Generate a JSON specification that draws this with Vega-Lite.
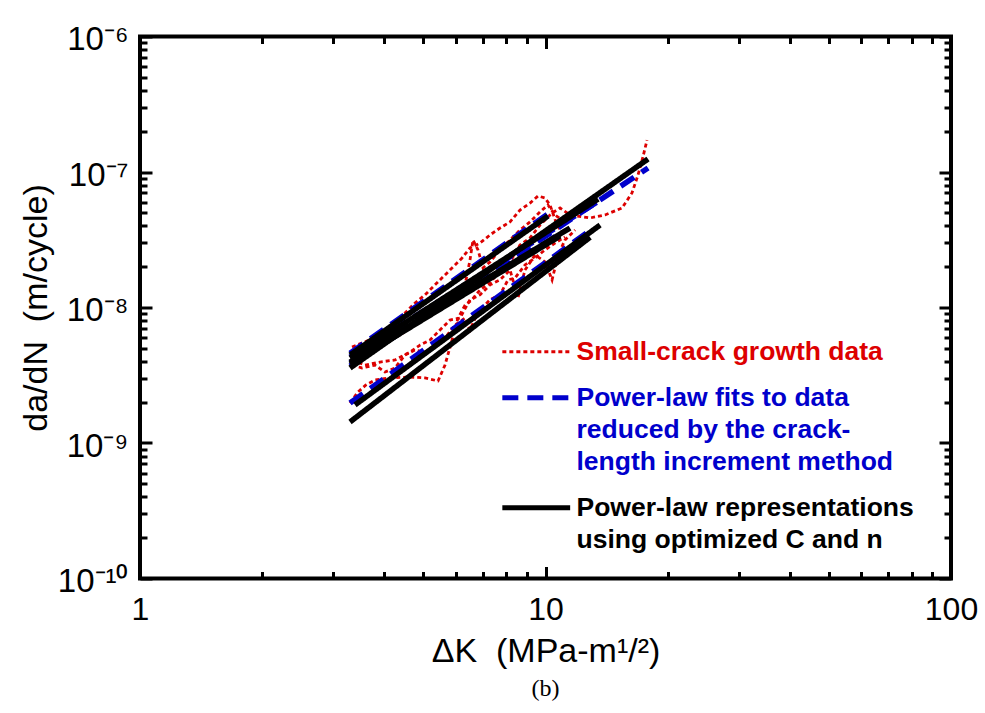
{
  "$schema": "https://vega.github.io/schema/vega-lite/v6.json",
  "width": 811,
  "height": 542,
  "autosize": {"type": "none"},
  "padding": {"left": 140, "top": 36.5, "right": 34, "bottom": 134.5},
  "background": "white",
  "title": {"text": "(b)", "orient": "bottom", "font": "Liberation Serif", "fontSize": 24, "fontWeight": "normal", "color": "black", "offset": 8},
  "config": {"view": {"stroke": "black", "strokeWidth": 4}},
  "data": {"values": [
    {"k":"data","s":"R1","x":3.296,"y":1.97e-9},{"k":"data","s":"R1","x":3.449,"y":2.38e-9},{"k":"data","s":"R1","x":3.607,"y":2.68e-9},{"k":"data","s":"R1","x":3.797,"y":2.92e-9},{"k":"data","s":"R1","x":4.136,"y":3.02e-9},{"k":"data","s":"R1","x":4.633,"y":3.07e-9},{"k":"data","s":"R1","x":5.045,"y":3.02e-9},{"k":"data","s":"R1","x":5.432,"y":2.87e-9},{"k":"data","s":"R1","x":5.652,"y":3.76e-9},{"k":"data","s":"R1","x":5.881,"y":5.75e-9},{"k":"data","s":"R1","x":6.085,"y":8.37e-9},{"k":"data","s":"R1","x":6.332,"y":1.04e-8},{"k":"data","s":"R1","x":6.588,"y":1.14e-8},{"k":"data","s":"R1","x":6.895,"y":1.35e-8},{"k":"data","s":"R1","x":7.298,"y":1.52e-8},{"k":"data","s":"R1","x":7.723,"y":1.89e-8},{"k":"data","s":"R1","x":8.176,"y":2.17e-8},{"k":"data","s":"R1","x":8.651,"y":2.89e-8},{"k":"data","s":"R1","x":9.159,"y":3.26e-8},{"k":"data","s":"R1","x":9.692,"y":4.06e-8},{"k":"data","s":"R1","x":10.38,"y":4.98e-8},{"k":"data","s":"R1","x":10.86,"y":5.42e-8},{"k":"data","s":"R1","x":11.49,"y":4.82e-8},{"k":"data","s":"R1","x":12.88,"y":4.58e-8},{"k":"data","s":"R1","x":14.02,"y":4.82e-8},{"k":"data","s":"R1","x":15.44,"y":5.42e-8},{"k":"data","s":"R1","x":16.34,"y":7.0e-8},{"k":"data","s":"R1","x":16.91,"y":9.5e-8},{"k":"data","s":"R1","x":17.39,"y":1.29e-7},{"k":"data","s":"R1","x":17.80,"y":1.72e-7},
    {"k":"data","s":"R2","x":3.333,"y":5.11e-9},{"k":"data","s":"R2","x":3.527,"y":5.47e-9},{"k":"data","s":"R2","x":3.797,"y":5.95e-9},{"k":"data","s":"R2","x":4.020,"y":6.82e-9},{"k":"data","s":"R2","x":4.255,"y":7.82e-9},{"k":"data","s":"R2","x":4.503,"y":9.11e-9},{"k":"data","s":"R2","x":4.767,"y":1.08e-8},{"k":"data","s":"R2","x":5.045,"y":1.24e-8},{"k":"data","s":"R2","x":5.340,"y":1.47e-8},{"k":"data","s":"R2","x":5.652,"y":1.74e-8},{"k":"data","s":"R2","x":5.982,"y":2.06e-8},{"k":"data","s":"R2","x":6.225,"y":2.32e-8},{"k":"data","s":"R2","x":6.513,"y":2.75e-8},{"k":"data","s":"R2","x":6.895,"y":2.99e-8},{"k":"data","s":"R2","x":7.298,"y":3.43e-8},{"k":"data","s":"R2","x":7.723,"y":3.86e-8},{"k":"data","s":"R2","x":8.176,"y":4.28e-8},{"k":"data","s":"R2","x":8.651,"y":5.24e-8},{"k":"data","s":"R2","x":9.159,"y":5.90e-8},{"k":"data","s":"R2","x":9.584,"y":6.65e-8},{"k":"data","s":"R2","x":9.972,"y":6.43e-8},{"k":"data","s":"R2","x":10.26,"y":5.71e-8},{"k":"data","s":"R2","x":10.61,"y":4.28e-8},{"k":"data","s":"R2","x":10.86,"y":3.73e-8},
    {"k":"data","s":"R3","x":3.333,"y":4.10e-9},{"k":"data","s":"R3","x":3.587,"y":3.76e-9},{"k":"data","s":"R3","x":3.907,"y":3.96e-9},{"k":"data","s":"R3","x":4.255,"y":4.10e-9},{"k":"data","s":"R3","x":4.633,"y":4.69e-9},{"k":"data","s":"R3","x":4.903,"y":5.28e-9},{"k":"data","s":"R3","x":5.190,"y":5.75e-9},{"k":"data","s":"R3","x":5.493,"y":6.82e-9},{"k":"data","s":"R3","x":5.814,"y":8.08e-9},{"k":"data","s":"R3","x":6.154,"y":8.37e-9},{"k":"data","s":"R3","x":6.513,"y":1.14e-8},{"k":"data","s":"R3","x":6.895,"y":1.24e-8},{"k":"data","s":"R3","x":7.298,"y":1.47e-8},{"k":"data","s":"R3","x":7.723,"y":1.60e-8},{"k":"data","s":"R3","x":8.176,"y":1.89e-8},{"k":"data","s":"R3","x":8.555,"y":1.18e-8},{"k":"data","s":"R3","x":8.899,"y":1.89e-8},{"k":"data","s":"R3","x":9.422,"y":2.44e-8},{"k":"data","s":"R3","x":9.972,"y":2.17e-8},{"k":"data","s":"R3","x":10.38,"y":1.60e-8},{"k":"data","s":"R3","x":10.74,"y":2.44e-8},{"k":"data","s":"R3","x":11.17,"y":3.15e-8},{"k":"data","s":"R3","x":11.83,"y":3.73e-8},
    {"k":"data","s":"R4","x":3.296,"y":4.69e-9},{"k":"data","s":"R4","x":3.487,"y":4.86e-9},{"k":"data","s":"R4","x":3.691,"y":5.11e-9},{"k":"data","s":"R4","x":3.907,"y":5.28e-9},{"k":"data","s":"R4","x":4.136,"y":5.75e-9},{"k":"data","s":"R4","x":4.377,"y":6.27e-9},{"k":"data","s":"R4","x":4.633,"y":7.06e-9},{"k":"data","s":"R4","x":4.903,"y":7.82e-9},{"k":"data","s":"R4","x":5.190,"y":8.80e-9},{"k":"data","s":"R4","x":5.493,"y":1.04e-8},{"k":"data","s":"R4","x":5.814,"y":1.22e-8},{"k":"data","s":"R4","x":6.154,"y":1.35e-8},{"k":"data","s":"R4","x":6.332,"y":1.47e-8},{"k":"data","s":"R4","x":6.513,"y":2.24e-8},{"k":"data","s":"R4","x":6.626,"y":3.15e-8},{"k":"data","s":"R4","x":6.816,"y":2.66e-8},{"k":"data","s":"R4","x":7.014,"y":1.96e-8},{"k":"data","s":"R4","x":7.298,"y":2.17e-8},{"k":"data","s":"R4","x":7.723,"y":2.66e-8},{"k":"data","s":"R4","x":8.176,"y":3.15e-8},{"k":"data","s":"R4","x":8.651,"y":3.73e-8},{"k":"data","s":"R4","x":9.159,"y":4.28e-8},{"k":"data","s":"R4","x":9.692,"y":5.07e-8},{"k":"data","s":"R4","x":10.14,"y":5.71e-8},{"k":"data","s":"R4","x":10.55,"y":4.82e-8},{"k":"data","s":"R4","x":11.17,"y":4.28e-8},
    {"k":"data","s":"R5","x":3.333,"y":3.76e-9},{"k":"data","s":"R5","x":3.527,"y":3.58e-9},{"k":"data","s":"R5","x":3.797,"y":3.76e-9},{"k":"data","s":"R5","x":4.020,"y":3.34e-9},{"k":"data","s":"R5","x":4.255,"y":3.58e-9},{"k":"data","s":"R5","x":4.503,"y":4.46e-9},{"k":"data","s":"R5","x":4.767,"y":4.86e-9},{"k":"data","s":"R5","x":5.045,"y":4.69e-9},{"k":"data","s":"R5","x":5.340,"y":5.28e-9},{"k":"data","s":"R5","x":5.652,"y":5.95e-9},{"k":"data","s":"R5","x":5.982,"y":7.43e-9},{"k":"data","s":"R5","x":6.332,"y":8.37e-9},{"k":"data","s":"R5","x":6.513,"y":6.82e-9},{"k":"data","s":"R5","x":6.816,"y":9.26e-9},{"k":"data","s":"R5","x":7.298,"y":1.14e-8},{"k":"data","s":"R5","x":7.723,"y":1.24e-8},{"k":"data","s":"R5","x":8.082,"y":1.60e-8},{"k":"data","s":"R5","x":8.410,"y":1.65e-8},{"k":"data","s":"R5","x":8.899,"y":2.06e-8},{"k":"data","s":"R5","x":9.422,"y":2.32e-8},{"k":"data","s":"R5","x":9.972,"y":2.66e-8},{"k":"data","s":"R5","x":10.55,"y":2.99e-8},{"k":"data","s":"R5","x":11.17,"y":3.31e-8},
    {"k":"fit","s":"D1","x":3.296,"y":3.7e-9},{"k":"fit","s":"D1","x":17.90,"y":1.07e-7},
    {"k":"fit","s":"D2","x":3.296,"y":4.3e-9},{"k":"fit","s":"D2","x":13.63,"y":6.2e-8},
    {"k":"fit","s":"D3","x":3.296,"y":3.9e-9},{"k":"fit","s":"D3","x":10.86,"y":3.5e-8},
    {"k":"fit","s":"D4","x":3.296,"y":1.97e-9},{"k":"fit","s":"D4","x":12.88,"y":3.7e-8},
    {"k":"fit","s":"D5","x":3.296,"y":4.6e-9},{"k":"fit","s":"D5","x":10.14,"y":4.9e-8},
    {"k":"rep","s":"B1","x":3.296,"y":4.46e-9},{"k":"rep","s":"B1","x":10.14,"y":4.73e-8},
    {"k":"rep","s":"B2","x":3.296,"y":4.24e-9},{"k":"rep","s":"B2","x":13.48,"y":6.32e-8},
    {"k":"rep","s":"B3","x":3.296,"y":3.58e-9},{"k":"rep","s":"B3","x":17.90,"y":1.247e-7},
    {"k":"rep","s":"B4","x":3.296,"y":3.96e-9},{"k":"rep","s":"B4","x":11.49,"y":3.86e-8},
    {"k":"rep","s":"B5","x":3.296,"y":3.83e-9},{"k":"rep","s":"B5","x":10.86,"y":3.37e-8},
    {"k":"rep","s":"B6","x":3.391,"y":1.91e-9},{"k":"rep","s":"B6","x":13.63,"y":4.06e-8},
    {"k":"rep","s":"B7","x":3.296,"y":1.43e-9},{"k":"rep","s":"B7","x":12.88,"y":3.3e-8}
  ]},
  "resolve": {"scale": {"x": "shared", "y": "shared"}, "axis": {"x": "independent", "y": "independent"}},
  "layer": [
    {
      "transform": [{"filter": "datum.k == 'data'"}],
      "mark": {"type": "line", "strokeWidth": 2.8, "clip": true},
      "encoding": {
        "x": {"field": "x", "type": "quantitative",
          "scale": {"type": "log", "domain": [1, 100], "nice": false},
          "axis": {"orient": "bottom", "values": [1, 10, 100], "format": "d", "ticks": false, "domain": false, "grid": false,
            "labelFont": "Liberation Sans", "labelFontSize": 32, "labelColor": "black", "labelPadding": 16, "labelFlush": false,
            "title": "ΔK\u00a0\u00a0(MPa-m¹/²)", "titleFont": "Liberation Sans", "titleFontSize": 34, "titleFontWeight": "normal", "titleColor": "black",
            "titleBaseline": "alphabetic", "titleY": 83}},
        "y": {"field": "y", "type": "quantitative",
          "scale": {"type": "log", "domain": [1e-10, 1e-6], "nice": false},
          "axis": {"orient": "left", "values": [1e-10, 1e-9, 1e-8, 1e-7, 1e-6], "ticks": false, "domain": false, "grid": false,
            "labelExpr": "'10' + ({'-6':'⁻⁶','-7':'⁻⁷','-8':'⁻⁸','-9':'⁻⁹','-10':'⁻¹⁰'})[''+round(log(datum.value)/LN10)]",
            "labelFont": "Liberation Sans", "labelFontSize": 33, "labelColor": "black", "labelPadding": 12, "labelFlush": false, "labelOffset": 3,
            "title": "da/dN\u00a0\u00a0(m/cycle)", "titleFont": "Liberation Sans", "titleFontSize": 34, "titleFontWeight": "normal", "titleColor": "black",
            "titleBaseline": "middle", "titleX": -104, "titleY": 271, "titleAngle": -90}},
        "color": {"field": "k", "type": "nominal",
          "scale": {"domain": ["data", "fit", "rep"], "range": ["#dd0000", "#0000cc", "#000000"]},
          "legend": {"orient": "none", "legendX": 383, "legendY": 302, "title": null,
            "symbolType": "stroke", "symbolSize": 4600, "symbolStrokeWidth": 4,
            "labelFont": "Liberation Sans", "labelFontSize": 26.5, "labelFontWeight": "bold", "labelLimit": 600, "labelOffset": 27, "rowPadding": 19,
            "labelExpr": "datum.value == 'data' ? 'Small-crack growth data' : datum.value == 'fit' ? ['Power-law fits to data','reduced by the crack-','length increment method'] : ['Power-law representations','using optimized C and n']",
            "encode": {
              "labels": {"update": {"fill": {"signal": "datum.value == 'data' ? '#dd0000' : datum.value == 'fit' ? '#0000cc' : '#000000'"}, "lineHeight": {"value": 32}}},
              "symbols": {"update": {"strokeWidth": {"signal": "datum.value == 'data' ? 3 : 5"}}}
            }}},
        "strokeDash": {"field": "k", "type": "nominal",
          "scale": {"domain": ["data", "fit", "rep"], "range": [[4, 3], [16, 9], [1, 0]]},
          "legend": null},
        "detail": {"field": "s"}
      }
    },
    {
      "transform": [{"filter": "datum.k == 'fit'"}],
      "mark": {"type": "line", "strokeWidth": 5.5, "clip": true},
      "encoding": {
        "x": {"field": "x", "type": "quantitative",
          "axis": {"orient": "bottom", "values": [1,2,3,4,5,6,7,8,9,10,20,30,40,50,60,70,80,90,100], "labels": false, "domain": false, "grid": false, "title": null,
            "tickColor": "black", "tickWidth": 3,
            "tickSize": {"condition": {"test": "abs(log(datum.value)/LN10 - round(log(datum.value)/LN10)) < 0.001", "value": -12}, "value": -7}}},
        "y": {"field": "y", "type": "quantitative",
          "axis": {"orient": "left", "values": [1e-10,2e-10,3e-10,4e-10,5e-10,6e-10,7e-10,8e-10,9e-10,1e-9,2e-9,3e-9,4e-9,5e-9,6e-9,7e-9,8e-9,9e-9,1e-8,2e-8,3e-8,4e-8,5e-8,6e-8,7e-8,8e-8,9e-8,1e-7,2e-7,3e-7,4e-7,5e-7,6e-7,7e-7,8e-7,9e-7,1e-6], "labels": false, "domain": false, "grid": false, "title": null,
            "tickColor": "black", "tickWidth": 3,
            "tickSize": {"condition": {"test": "abs(log(datum.value)/LN10 - round(log(datum.value)/LN10)) < 0.001", "value": -12}, "value": -7}}},
        "color": {"field": "k", "type": "nominal"},
        "strokeDash": {"field": "k", "type": "nominal"},
        "detail": {"field": "s"}
      }
    },
    {
      "transform": [{"filter": "datum.k == 'rep'"}],
      "mark": {"type": "line", "strokeWidth": 5.5, "clip": true},
      "encoding": {
        "x": {"field": "x", "type": "quantitative",
          "axis": {"orient": "top", "values": [1,2,3,4,5,6,7,8,9,10,20,30,40,50,60,70,80,90,100], "labels": false, "domain": false, "grid": false, "title": null,
            "tickColor": "black", "tickWidth": 3,
            "tickSize": {"condition": {"test": "abs(log(datum.value)/LN10 - round(log(datum.value)/LN10)) < 0.001", "value": -12}, "value": -7}}},
        "y": {"field": "y", "type": "quantitative",
          "axis": {"orient": "right", "values": [1e-10,2e-10,3e-10,4e-10,5e-10,6e-10,7e-10,8e-10,9e-10,1e-9,2e-9,3e-9,4e-9,5e-9,6e-9,7e-9,8e-9,9e-9,1e-8,2e-8,3e-8,4e-8,5e-8,6e-8,7e-8,8e-8,9e-8,1e-7,2e-7,3e-7,4e-7,5e-7,6e-7,7e-7,8e-7,9e-7,1e-6], "labels": false, "domain": false, "grid": false, "title": null,
            "tickColor": "black", "tickWidth": 3,
            "tickSize": {"condition": {"test": "abs(log(datum.value)/LN10 - round(log(datum.value)/LN10)) < 0.001", "value": -12}, "value": -7}}},
        "color": {"field": "k", "type": "nominal"},
        "strokeDash": {"field": "k", "type": "nominal"},
        "detail": {"field": "s"}
      }
    }
  ]
}
